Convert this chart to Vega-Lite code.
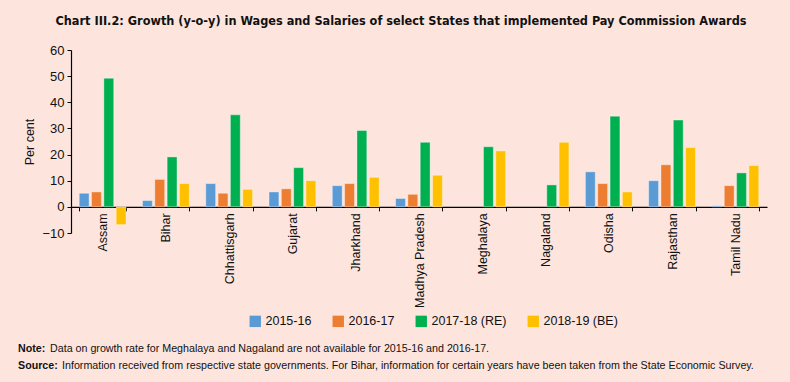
{
  "$schema": "https://vega.github.io/schema/vega-lite/v6.json",
  "autosize": "none",
  "width": 696,
  "height": 183,
  "padding": {"left": 71, "top": 50, "right": 23, "bottom": 149},
  "background": "#FDE5DE",
  "title": {
    "text": "Chart III.2: Growth (y-o-y) in Wages and Salaries of select States that implemented Pay Commission Awards",
    "anchor": "middle",
    "frame": "group",
    "dx": -18,
    "offset": 16,
    "font": "DejaVu Sans Condensed",
    "fontWeight": "bold",
    "fontSize": 12.6,
    "color": "#111111"
  },
  "config": {
    "view": {"stroke": null},
    "axis": {
      "labelFont": "Liberation Sans",
      "titleFont": "Liberation Sans",
      "labelColor": "#111111",
      "titleColor": "#111111",
      "domainColor": "#000000",
      "tickColor": "#000000",
      "grid": false
    },
    "legend": {"labelFont": "Liberation Sans", "labelColor": "#111111"}
  },
  "layer": [
    {
      "data": {
        "values": [
          {"state": "Assam", "year": "2015-16", "value": 5.2},
          {"state": "Assam", "year": "2016-17", "value": 5.7},
          {"state": "Assam", "year": "2017-18 (RE)", "value": 49.2},
          {"state": "Assam", "year": "2018-19 (BE)", "value": -6.8},
          {"state": "Bihar", "year": "2015-16", "value": 2.4},
          {"state": "Bihar", "year": "2016-17", "value": 10.5},
          {"state": "Bihar", "year": "2017-18 (RE)", "value": 19.1},
          {"state": "Bihar", "year": "2018-19 (BE)", "value": 8.9},
          {"state": "Chhattisgarh", "year": "2015-16", "value": 8.9},
          {"state": "Chhattisgarh", "year": "2016-17", "value": 5.2},
          {"state": "Chhattisgarh", "year": "2017-18 (RE)", "value": 35.2},
          {"state": "Chhattisgarh", "year": "2018-19 (BE)", "value": 6.7},
          {"state": "Gujarat", "year": "2015-16", "value": 5.7},
          {"state": "Gujarat", "year": "2016-17", "value": 6.9},
          {"state": "Gujarat", "year": "2017-18 (RE)", "value": 15.0},
          {"state": "Gujarat", "year": "2018-19 (BE)", "value": 10.0},
          {"state": "Jharkhand", "year": "2015-16", "value": 8.1},
          {"state": "Jharkhand", "year": "2016-17", "value": 8.9},
          {"state": "Jharkhand", "year": "2017-18 (RE)", "value": 29.2},
          {"state": "Jharkhand", "year": "2018-19 (BE)", "value": 11.3},
          {"state": "Madhya Pradesh", "year": "2015-16", "value": 3.2},
          {"state": "Madhya Pradesh", "year": "2016-17", "value": 4.8},
          {"state": "Madhya Pradesh", "year": "2017-18 (RE)", "value": 24.7},
          {"state": "Madhya Pradesh", "year": "2018-19 (BE)", "value": 12.1},
          {"state": "Meghalaya", "year": "2017-18 (RE)", "value": 23.0},
          {"state": "Meghalaya", "year": "2018-19 (BE)", "value": 21.4},
          {"state": "Nagaland", "year": "2017-18 (RE)", "value": 8.4},
          {"state": "Nagaland", "year": "2018-19 (BE)", "value": 24.7},
          {"state": "Odisha", "year": "2015-16", "value": 13.4},
          {"state": "Odisha", "year": "2016-17", "value": 8.9},
          {"state": "Odisha", "year": "2017-18 (RE)", "value": 34.7},
          {"state": "Odisha", "year": "2018-19 (BE)", "value": 5.7},
          {"state": "Rajasthan", "year": "2015-16", "value": 10.0},
          {"state": "Rajasthan", "year": "2016-17", "value": 16.1},
          {"state": "Rajasthan", "year": "2017-18 (RE)", "value": 33.2},
          {"state": "Rajasthan", "year": "2018-19 (BE)", "value": 22.7},
          {"state": "Tamil Nadu", "year": "2015-16", "value": 0.4},
          {"state": "Tamil Nadu", "year": "2016-17", "value": 8.1},
          {"state": "Tamil Nadu", "year": "2017-18 (RE)", "value": 13.0},
          {"state": "Tamil Nadu", "year": "2018-19 (BE)", "value": 15.8}
        ]
      },
      "mark": {"type": "bar", "stroke": "#ffffff", "strokeOpacity": 0.45, "strokeWidth": 0.8},
      "encoding": {
        "x": {
          "field": "state",
          "type": "nominal",
          "sort": null,
          "scale": {"paddingInner": 0.26, "paddingOuter": 0.13},
          "axis": {
            "title": null,
            "labelAngle": -90,
            "labelAlign": "right",
            "labelBaseline": "middle",
            "labelFontSize": 12.5,
            "labelPadding": 2,
            "tickSize": 4,
            "tickBand": "extent",
            "offset": -26.14,
            "domainWidth": 1.2
          }
        },
        "xOffset": {
          "field": "year",
          "type": "nominal",
          "sort": ["2015-16", "2016-17", "2017-18 (RE)", "2018-19 (BE)"],
          "scale": {"paddingInner": 0.2, "paddingOuter": 0}
        },
        "y": {
          "field": "value",
          "type": "quantitative",
          "scale": {"domain": [-10, 60], "nice": false, "zero": false},
          "axis": {
            "title": "Per cent",
            "titleFontSize": 12.5,
            "titleFontWeight": "normal",
            "titlePadding": 5,
            "values": [-10, 0, 10, 20, 30, 40, 50, 60],
            "labelFontSize": 13,
            "labelPadding": 3,
            "tickSize": 4,
            "domainWidth": 1.2
          }
        },
        "color": {
          "field": "year",
          "type": "nominal",
          "sort": ["2015-16", "2016-17", "2017-18 (RE)", "2018-19 (BE)"],
          "scale": {
            "domain": ["2015-16", "2016-17", "2017-18 (RE)", "2018-19 (BE)"],
            "range": ["#5B9BD5", "#ED7D31", "#00B050", "#FFC000"]
          },
          "legend": {
            "title": null,
            "orient": "none",
            "direction": "horizontal",
            "legendX": 178,
            "legendY": 265,
            "symbolType": "square",
            "symbolSize": 130,
            "symbolStrokeWidth": 0,
            "labelFontSize": 12.5,
            "labelOffset": 4,
            "columnPadding": 20
          }
        }
      }
    },
    {
      "data": {"values": [{"label": "Note:"}]},
      "mark": {"type": "text", "font": "Liberation Sans", "fontWeight": "bold", "fontSize": 10.7, "align": "left", "baseline": "middle", "color": "#111111"},
      "encoding": {"text": {"field": "label"}, "x": {"value": -53}, "y": {"value": 299}}
    },
    {
      "data": {"values": [{"label": "Source:"}]},
      "mark": {"type": "text", "font": "Liberation Sans", "fontWeight": "bold", "fontSize": 10.7, "align": "left", "baseline": "middle", "color": "#111111"},
      "encoding": {"text": {"field": "label"}, "x": {"value": -53}, "y": {"value": 316}}
    },
    {
      "data": {"values": [{"label": "Data on growth rate for Meghalaya and Nagaland are not available for 2015-16 and 2016-17."}]},
      "mark": {"type": "text", "font": "Liberation Sans", "fontSize": 10.7, "align": "left", "baseline": "middle", "color": "#111111"},
      "encoding": {"text": {"field": "label"}, "x": {"value": -21}, "y": {"value": 299}}
    },
    {
      "data": {"values": [{"label": "Information received from respective state governments. For Bihar, information for certain years have been taken from the State Economic Survey."}]},
      "mark": {"type": "text", "font": "Liberation Sans", "fontSize": 10.7, "align": "left", "baseline": "middle", "color": "#111111"},
      "encoding": {"text": {"field": "label"}, "x": {"value": -9}, "y": {"value": 316}}
    }
  ]
}
